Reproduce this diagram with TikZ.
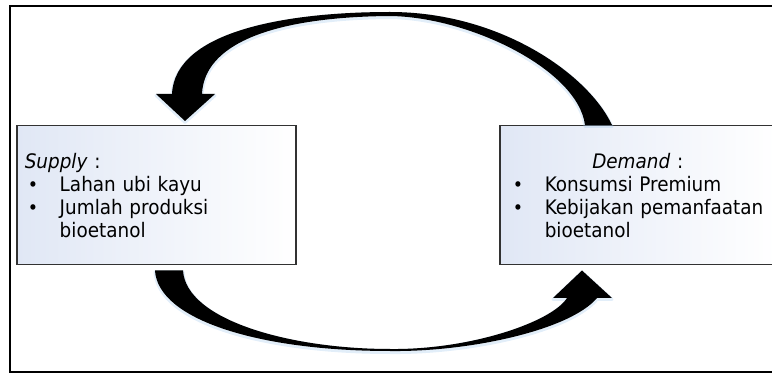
\documentclass[tikz,border=0pt]{standalone}
\usepackage{fontspec}
\setmainfont{DejaVu Sans}[FakeStretch=0.92]
\usetikzlibrary{calc}
\definecolor{boxtint}{RGB}{224,231,245}
\definecolor{boxedge}{RGB}{50,50,50}
\definecolor{glowblue}{RGB}{160,198,235}
\newcommand{\bul}{\makebox[35pt][l]{\hspace*{3pt}{\fontsize{19}{19}\selectfont •}}}
\begin{document}
\begin{tikzpicture}[x=1pt,y=-1pt,
  box/.style={draw=boxedge, line width=1.5pt, left color=boxtint, right color=white,
    rectangle, anchor=north west, inner sep=0pt, minimum height=139pt, align=left,
    font=\fontsize{20}{23}\selectfont},
  bigarrow/.style={fill=black,
    preaction={draw=glowblue, line width=3pt, opacity=0.3, line join=round,
      transform canvas={yshift=-1.5pt}}}]
\useasboundingbox (0,0) rectangle (772,374);
\begin{scope}
\clip (0,0) rectangle (772,374);
\draw[line width=2pt] (10,6) rectangle (790,372);
\node[box, minimum width=279pt, text width=263pt] (supply) at (16,125)
  {\textit{Supply} :\\
   \bul Lahan ubi kayu\\
   \bul Jumlah produksi\\
   \hspace*{35pt}bioetanol};
\node[box, minimum width=276pt, text width=256pt] (demand) at (499,125)
  {\makebox[256pt]{\textit{Demand} :}\\
   \bul Konsumsi Premium\\
   \bul Kebijakan pemanfaatan\\
   \hspace*{35pt}bioetanol};
\end{scope}
% top arrow: Demand -> Supply
\path[bigarrow] ($(demand.north west)+(113,0)$)
  .. controls (588,74) and (500,12) .. (390,12)
  .. controls (290,12) and (175,30) .. (172,94)
  -- (156,94) -- ($(supply.north west)+(169,-4)$) -- (215,94) -- (202,94)
  .. controls (204,45) and (270,17) .. (390,16)
  .. controls (470,17) and (578,70) .. ($(demand.north west)+(86,0)$) -- cycle;
% bottom arrow: Supply -> Demand
\path[bigarrow] ($(supply.south west)+(139,5)$)
  .. controls (158,320) and (260,351) .. (390,351)
  .. controls (470,352) and (570,330) .. (597,298)
  -- (612,298) -- ($(demand.south west)+(83,5)$) -- (553,298) -- (567,298)
  .. controls (552,322) and (470,350) .. (390,349)
  .. controls (290,349) and (186,320) .. ($(supply.south west)+(167,5)$) -- cycle;
\end{tikzpicture}
\end{document}
